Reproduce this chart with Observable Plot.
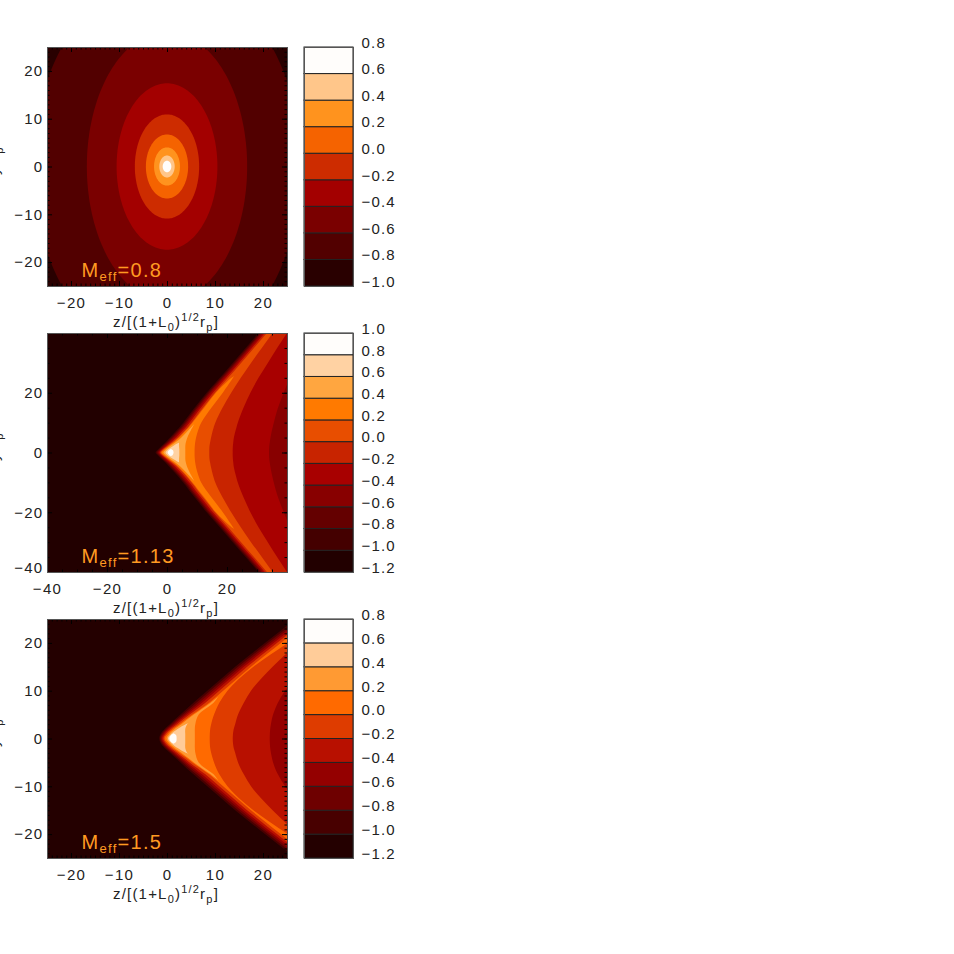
<!DOCTYPE html>
<html>
<head>
<meta charset="utf-8">
<script src="https://cdn.jsdelivr.net/npm/d3@7"></script>
<script src="https://cdn.jsdelivr.net/npm/@observablehq/plot@0.6"></script>
<style>
html,body{margin:0;padding:0;background:#fff;width:954px;height:954px;overflow:hidden}
#root{position:relative;width:954px;height:954px}
#root svg{position:absolute}
</style>
</head>
<body>
<div id="root"></div>
<script>
// ---------- colour bars ----------
const bar1Colors = ["#290000","#520000","#7a0000","#a30000","#cd2c00","#f56300","#ff931e","#ffc68a","#fffdfb"];
const bar1Ticks = [-1.0,-0.8,-0.6,-0.4,-0.2,0.0,0.2,0.4,0.6,0.8];
const bar2Colors = ["#220000","#440000","#640000","#880000","#a80000","#c82400","#e84e00","#ff7a00","#ffa640","#ffd2a3","#fffdfb"];
const bar2Ticks = [-1.2,-1.0,-0.8,-0.6,-0.4,-0.2,0.0,0.2,0.4,0.6,0.8,1.0];
const bar3Colors = ["#240000","#480000","#6e0000","#940000","#b81000","#de3c00","#ff6a00","#ff9a33","#ffcc99","#fffdfb"];
const bar3Ticks = [-1.2,-1.0,-0.8,-0.6,-0.4,-0.2,0.0,0.2,0.4,0.6,0.8];

// ---------- panel 1: contour semi-axes ----------
const p1SemiX = [27.9,16.7,10.5,6.7,4.4,2.7,1.6,0.9];
const p1SemiY = [40.3,28.2,17.4,10.9,6.7,4.0,2.3,1.2];

// ---------- panel 2: contour edges (upper half; lower half is the mirror) ----------
const y2 = [0,1,2,3,5,7.5,10,15,20,25,30,35,40,45];
const p2L44 = [-3.8,-3.0,-2.0,-0.9,1.0,3.3,5.4,9.2,13.2,17.6,21.9,26.2,30.5,34.8];
const p2L64 = [-3.4,-2.6,-1.6,-0.5,1.5,3.8,5.9,9.7,13.7,18.1,22.4,26.7,31.0,35.3];
const p2L88 = [-3.0,-2.2,-1.2,-0.1,2.0,4.3,6.4,10.2,14.2,18.6,22.9,27.2,31.5,35.8];
const p2La8 = [-2.7,-1.9,-0.8,0.3,2.5,4.8,6.9,10.7,14.7,19.1,23.4,27.7,32.0,36.3];
const p2Lc8 = [-2.4,-1.6,-0.4,0.8,3.1,5.4,7.5,11.3,15.3,19.7,24.0,28.3,32.6,36.9];
const p2Le8 = [-2.1,-1.3,0.0,1.3,3.7,6.1,8.2,12.0,16.0,20.4,24.7,29.0,33.3,37.6];
const p2Far = [60,60,60,60,60,60,60,60,60,60,60,60,60,60];
const p2Ra8 = [34.0,34.02,34.08,34.2,34.5,35.0,35.6,37.0,38.9,41.0,43.6,46.5,49.5,52.5];
const p2Rc8 = [21.9,21.9,21.95,22.05,22.3,22.9,23.6,25.5,27.8,30.5,33.6,36.7,40.0,43.2];
const p2Re8 = [14.1,14.1,14.15,14.3,14.7,15.3,16.1,18.5,21.4,24.6,28.0,31.6,35.2,39.0];
const y2o = [0,1,2,3,5,7.5,10,15,20,25,25.5];
const p2Lo = [-1.8,-0.9,0.4,1.7,4.1,6.4,8.5,12.4,16.3,21.5,22.3];
const p2Ro = [9.2,9.2,9.25,9.35,9.7,10.4,11.4,14.8,18.6,22.0,22.3];
const y2a = [0,1,2,3,5,7.5,9.5];
const p2La = [-1.2,-0.4,0.9,2.3,4.8,7.2,9.1];
const p2Ra = [6.1,6.1,6.1,6.2,6.8,8.0,9.1];
const y2d = [0,1,2,3,3.3];
const p2Ld = [-0.5,0.3,1.8,3.4,4.0];
const p2Rd = [4.1,4.1,4.0,4.0,4.0];
const y2w = [0,0.8,1.2];
const p2Lw = [0.2,0.7,1.3];
const p2Rw = [2.2,1.9,1.3];

// ---------- panel 3: contour edges ----------
const y3 = [0,1,2,3,5,7.5,10,12.5,15,17.5,20,22.5,25,30];
const p3L48 = [-1.6,-1.3,-0.5,0.6,2.8,5.5,8.4,11.3,14.2,17.3,20.4,23.6,26.8,33.0];
const p3L6e = [-1.4,-1.05,-0.2,0.95,3.25,6.1,9.0,11.9,14.8,17.9,21.0,24.2,27.4,33.6];
const p3L94 = [-1.2,-0.8,0.1,1.3,3.7,6.7,9.6,12.5,15.4,18.5,21.6,24.8,28.0,34.2];
const p3Lb8 = [-1.0,-0.55,0.4,1.65,4.15,7.3,10.2,13.1,16.0,19.1,22.2,25.4,28.6,34.8];
const p3Lde = [-0.75,-0.25,0.8,2.1,4.7,8.0,10.9,13.8,16.7,19.8,22.9,26.1,29.3,35.5];
const p3Lo = [-0.5,0.1,1.2,2.6,5.3,8.8,11.7,14.6,17.5,20.6,23.7,26.9,30.1,36.3];
const p3Far = [60,60,60,60,60,60,60,60,60,60,60,60,60,60];
const p3Rb8 = [21.4,21.43,21.5,21.65,22.1,23.1,24.6,26.7,29.1,31.8,34.6,37.5,40.5,46.5];
const p3Rde = [13.7,13.75,13.9,14.2,14.8,16.0,17.5,19.6,22.0,24.6,27.3,30.2,33.2,39.0];
const p3Ro = [8.9,8.92,9.0,9.2,9.8,10.9,12.6,15.0,18.0,21.5,25.2,29.0,33.0,40.0];
const y3a = [0,1,2,3,5,7.5,8.8];
const p3La = [-0.1,0.5,1.6,3.0,5.6,9.1,10.7];
const p3Ra = [5.8,5.8,5.8,5.9,6.6,9.7,10.7];
const y3d = [0,1,2,3,3.2];
const p3Ld = [0.2,0.9,2.2,3.9,4.5];
const p3Rd = [3.8,3.8,3.8,4.2,4.5];
const y3w = [0,0.7,1.1];
const p3Lw = [0.5,0.8,1.4];
const p3Rw = [2.0,1.9,1.4];

// ---------- axes ----------
const p1Ticks = [-20,-10,0,10,20];
const p2XTicks = [-40,-20,0,20];
const p2YTicks = [-20,0,20];
const annotations = ["0.8","1.13","1.5"];

const FONT = "'Liberation Sans', Arial, sans-serif";
const INK = "#222";
const ORANGE = "#ff9a22";
const root = document.getElementById("root");
const INNER_W = 240, INNER_H = 239, M_TOP = 10, M_BOT = 52, M_LEFT = 47, M_RIGHT = 8;

function mirror(ys, a, b) {
  const rows = [];
  for (let i = ys.length - 1; i > 0; --i) rows.push({y: -ys[i], a: a[i], b: b[i]});
  ys.forEach((y, i) => rows.push({y, a: a[i], b: b[i]}));
  return rows;
}
function band(ys, a, b, fill) {
  return Plot.areaX(mirror(ys, a, b), {y: "y", x1: "a", x2: "b", fill, curve: "catmull-rom", clip: true});
}
function ellipse(rx, ry, fill) {
  const rows = d3.range(0, 97).map(i => {
    const t = Math.PI * i / 96;
    return {x: -rx * Math.cos(t), h: ry * Math.sin(t)};
  });
  return Plot.areaY(rows, {x: "x", y1: d => -d.h, y2: "h", fill, clip: true});
}
function richText(parts, attrs) {
  const NS = "http://www.w3.org/2000/svg";
  const text = document.createElementNS(NS, "text");
  for (const k in attrs) text.setAttribute(k, attrs[k]);
  let last = 0;
  for (const p of parts) {
    const s = document.createElementNS(NS, "tspan");
    s.textContent = p.t;
    const shift = p.shift || 0;
    s.setAttribute("dy", shift - last);
    if (p.size) s.setAttribute("font-size", p.size);
    last = shift;
    text.appendChild(s);
  }
  return text;
}
function xTitle() {
  return (index, scales, values, dims) => richText([
    {t: "z/[(1+L"}, {t: "0", shift: 4, size: 11}, {t: ")"},
    {t: "1/2", shift: -6, size: 11}, {t: "r"}, {t: "p", shift: 4, size: 11}, {t: "]"}
  ], {x: (dims.marginLeft + dims.width - dims.marginRight) / 2 - 1,
      y: dims.height - dims.marginBottom + 41, "text-anchor": "middle",
      "font-size": 15, fill: INK, "font-family": FONT, "letter-spacing": "1.2px"});
}
function yTitle() {
  return (index, scales, values, dims) => {
    const cy = (dims.marginTop + dims.height - dims.marginBottom) / 2;
    return richText([{t: "y/r"}, {t: "p", shift: 4, size: 11}],
      {transform: `translate(-1,${cy - 6}) rotate(-90)`, "text-anchor": "middle",
       "font-size": 15, fill: INK, "font-family": FONT, "letter-spacing": "1.5px"});
  };
}
function meff(label) {
  return (index, scales, values, dims) => richText([
    {t: "M"}, {t: "eff", shift: 4, size: 13}, {t: "=" + label}
  ], {x: dims.marginLeft + 34.5, y: dims.height - dims.marginBottom - 9.5, "text-anchor": "start",
      "font-size": 20, fill: ORANGE, "font-family": FONT, "letter-spacing": "1.3px"});
}
function ticks(list, dom, px, size, axis) {
  const [lo, hi] = dom;
  const len = size * (hi - lo) / px;
  const st = {stroke: "black", strokeWidth: 1};
  return axis === "x"
    ? [Plot.ruleX(list, {...st, y1: lo, y2: lo + len}), Plot.ruleX(list, {...st, y1: hi, y2: hi - len})]
    : [Plot.ruleY(list, {...st, x1: lo, x2: lo + len}), Plot.ruleY(list, {...st, x1: hi, x2: hi - len})];
}
function panel(top, opts) {
  const dom = opts.domain;
  const plot = Plot.plot({
    width: M_LEFT + INNER_W + M_RIGHT, height: M_TOP + INNER_H + M_BOT,
    marginLeft: M_LEFT, marginRight: M_RIGHT, marginTop: M_TOP, marginBottom: M_BOT,
    x: {domain: dom, label: null}, y: {domain: dom, label: null},
    style: {fontFamily: FONT, fontSize: "15px", color: INK, letterSpacing: "1.3px", background: "transparent", overflow: "hidden"},
    marks: [
      Plot.frame({fill: opts.base, stroke: null}),
      ...opts.marks,
      ...ticks(opts.minor, dom, INNER_H, 2.5, "x"), ...ticks(opts.major, dom, INNER_W, 5, "x"),
      ...ticks(opts.minor, dom, INNER_W, 2.5, "y"), ...ticks(opts.major, dom, INNER_H, 5, "y"),
      Plot.frame({stroke: "#555", strokeWidth: 1}),
      ...opts.axes,
      Plot.axisX(opts.xTicks, {anchor: "bottom", tickSize: 0, tickPadding: 10.5, label: null, tickFormat: d3.format("d")}),
      xTitle(), yTitle(), meff(opts.label)
    ]
  });
  plot.style.left = "0px";
  plot.style.top = (top - M_TOP) + "px";
  root.appendChild(plot);
}
function colorBar(top, colors, tickVals) {
  const step = 0.2, lo = tickVals[0];
  const rows = colors.map((c, i) => ({y1: lo + i * step, y2: lo + (i + 1) * step, c}));
  const plot = Plot.plot({
    width: 110, height: M_TOP + INNER_H + M_BOT, marginLeft: 9, marginRight: 52,
    marginTop: M_TOP, marginBottom: M_BOT,
    x: {domain: [0, 1], axis: null},
    y: {domain: [lo, tickVals[tickVals.length - 1]], label: null},
    style: {fontFamily: FONT, fontSize: "15px", color: INK, letterSpacing: "1.2px", background: "transparent"},
    marks: [
      Plot.rect(rows, {x1: 0, x2: 1, y1: "y1", y2: "y2", fill: "c", stroke: "#222", strokeWidth: 1}),
      Plot.frame({stroke: "#555", strokeWidth: 1}),
      Plot.axisY(tickVals, {anchor: "right", tickSize: 0, tickPadding: 8, dy: -4.5, label: null, tickFormat: d3.format(".1f")})
    ]
  });
  plot.style.left = "295px";
  plot.style.top = (top - M_TOP) + "px";
  root.appendChild(plot);
}

const p1Marks = p1SemiX.map((rx, i) => ellipse(rx, p1SemiY[i], bar1Colors[i + 1]));
const p2Marks = [
  band(y2, p2L44, p2Far, bar2Colors[1]),
  band(y2, p2L64, p2Far, bar2Colors[2]),
  band(y2, p2L88, p2Far, bar2Colors[3]),
  band(y2, p2La8, p2Ra8, bar2Colors[4]),
  band(y2, p2Lc8, p2Rc8, bar2Colors[5]),
  band(y2, p2Le8, p2Re8, bar2Colors[6]),
  band(y2o, p2Lo, p2Ro, bar2Colors[7]),
  band(y2a, p2La, p2Ra, bar2Colors[8]),
  band(y2d, p2Ld, p2Rd, bar2Colors[9]),
  band(y2w, p2Lw, p2Rw, bar2Colors[10])
];
const p3Marks = [
  band(y3, p3L48, p3Far, bar3Colors[1]),
  band(y3, p3L6e, p3Far, bar3Colors[2]),
  band(y3, p3L94, p3Far, bar3Colors[3]),
  band(y3, p3Lb8, p3Rb8, bar3Colors[4]),
  band(y3, p3Lde, p3Rde, bar3Colors[5]),
  band(y3, p3Lo, p3Ro, bar3Colors[6]),
  band(y3a, p3La, p3Ra, bar3Colors[7]),
  band(y3d, p3Ld, p3Rd, bar3Colors[8]),
  band(y3w, p3Lw, p3Rw, bar3Colors[9])
];

const yAxis = (list, dy = 0) => Plot.axisY(list, {anchor: "left", tickSize: 0, tickPadding: 4, dy, label: null, tickFormat: d3.format("d")});

panel(47, {domain: [-25, 25], base: bar1Colors[0], marks: p1Marks, label: annotations[0],
  minor: d3.range(-25, 26), major: p1Ticks, xTicks: p1Ticks, axes: [yAxis(p1Ticks)]});
panel(333, {domain: [-40, 40], base: bar2Colors[0], marks: p2Marks, label: annotations[1],
  minor: d3.range(-40, 41, 5), major: p2XTicks, xTicks: p2XTicks, axes: [yAxis(p2YTicks), yAxis([-40], -4)]});
panel(619, {domain: [-25, 25], base: bar3Colors[0], marks: p3Marks, label: annotations[2],
  minor: d3.range(-25, 26), major: p1Ticks, xTicks: p1Ticks, axes: [yAxis(p1Ticks)]});

colorBar(47, bar1Colors, bar1Ticks);
colorBar(333, bar2Colors, bar2Ticks);
colorBar(619, bar3Colors, bar3Ticks);
</script>
</body>
</html>
